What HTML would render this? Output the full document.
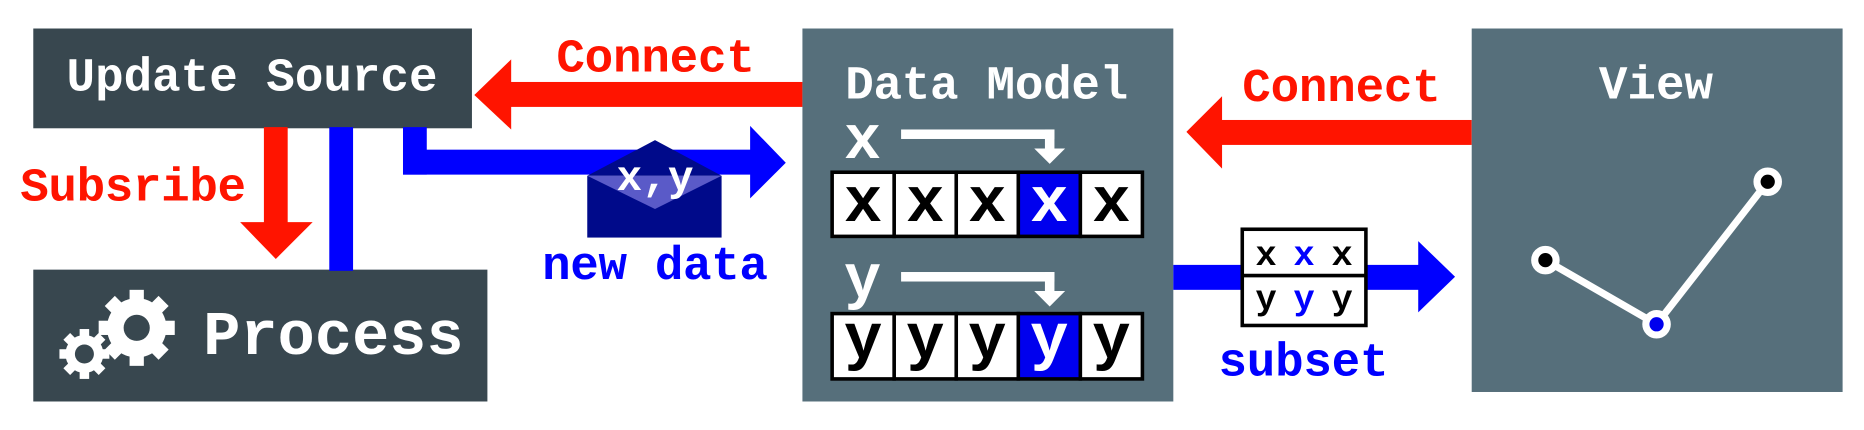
<!DOCTYPE html>
<html><head><meta charset="utf-8"><style>
html,body{margin:0;padding:0;background:#fff;}
svg{display:block;}
text{font-family:"Liberation Mono","DejaVu Sans Mono",monospace;font-weight:bold;}
</style></head><body>
<svg width="1864" height="430" viewBox="0 0 1568 362" preserveAspectRatio="none">
<rect x="0" y="0" width="1568" height="362" fill="#fff"/>
<g>
<rect x="28" y="24" width="369" height="84" fill="#38474f"/>
<text x="212" y="76" font-size="40" fill="#fff" text-anchor="middle" textLength="312">Update Source</text>
</g>
<g>
<rect x="28" y="227" width="382" height="111" fill="#38474f"/>
<g fill="#fff">
<g transform="translate(115,276)">
<circle r="25"/>
<rect x="-6" y="-32" width="12" height="64"/><rect x="-6" y="-32" width="12" height="64" transform="rotate(45)"/><rect x="-6" y="-32" width="12" height="64" transform="rotate(90)"/><rect x="-6" y="-32" width="12" height="64" transform="rotate(135)"/>
<circle r="11" fill="#38474f"/>
</g>
<g transform="translate(71,298)">
<circle r="16"/>
<rect x="-4" y="-21" width="8" height="42"/><rect x="-4" y="-21" width="8" height="42" transform="rotate(45)"/><rect x="-4" y="-21" width="8" height="42" transform="rotate(90)"/><rect x="-4" y="-21" width="8" height="42" transform="rotate(135)"/>
<circle r="8" fill="#38474f"/>
</g>
</g>
<text x="171" y="298" font-size="52" fill="#fff" textLength="219">Process</text>
</g>
<g fill="#ff1400">
<rect x="222" y="107" width="20" height="81"/>
<polygon points="202,187 263,187 232,218"/>
</g>
<text x="17" y="169" font-size="40" fill="#ff1400" textLength="190">Subsribe</text>
<rect x="277" y="107" width="20" height="121" fill="#0000ff"/>
<g fill="#ff1400">
<rect x="428" y="69" width="247" height="21"/>
<polygon points="430,50 430,109 399,80"/>
</g>
<text x="468" y="60" font-size="40" fill="#ff1400" textLength="167">Connect</text>
<g fill="#0000ff">
<rect x="339" y="107" width="20" height="40"/>
<rect x="339" y="126" width="293" height="21"/>
<polygon points="631,106 631,167 661,137"/>
</g>
<g>
<rect x="494" y="148" width="113" height="52" fill="#000a8a"/>
<polygon points="494,148 551,118 607,148" fill="#000a8a"/>
<polygon points="494,148 607,148 551,176" fill="#5a5ac8"/>
<text x="551" y="160" font-size="36" fill="#fff" text-anchor="middle">x,y</text>
</g>
<text x="456" y="235" font-size="40" fill="#0000ff" textLength="190">new data</text>
<g>
<rect x="675" y="24" width="312" height="314" fill="#566f7b"/>
<text x="711" y="83" font-size="40" fill="#fff" textLength="238">Data Model</text>
<text x="710" y="133" font-size="52" fill="#fff">x</text>
<g fill="#fff"><rect x="758" y="109" width="129" height="8"/><rect x="879" y="109" width="8" height="18"/><polygon points="870,125 896,125 883,138"/></g>
<text x="710" y="250" font-size="52" fill="#fff">y</text>
<g fill="#fff"><rect x="758" y="229" width="129" height="8"/><rect x="879" y="229" width="8" height="18"/><polygon points="870,245 896,245 883,258"/></g>
<g id="xrow"></g>
<g id="yrow"></g>
</g>
<g fill="#ff1400">
<rect x="1026" y="101" width="212" height="21"/>
<polygon points="1028,81 1028,142 998,111"/>
</g>
<text x="1045" y="85" font-size="40" fill="#ff1400" textLength="167">Connect</text>
<g fill="#0000ff">
<rect x="987" y="223" width="208" height="21"/>
<polygon points="1193,203 1193,263 1224,233"/>
</g>
<g>
<rect x="1045" y="193" width="104" height="81" fill="#fff" stroke="#000" stroke-width="3"/>
<line x1="1045" y1="232" x2="1149" y2="232" stroke="#000" stroke-width="3"/>
<text x="1065" y="223" font-size="30" fill="#000" text-anchor="middle">x</text>
<text x="1097" y="223" font-size="30" fill="#0000ff" text-anchor="middle">x</text>
<text x="1129" y="223" font-size="30" fill="#000" text-anchor="middle">x</text>
<text x="1065" y="260" font-size="30" fill="#000" text-anchor="middle">y</text>
<text x="1097" y="260" font-size="30" fill="#0000ff" text-anchor="middle">y</text>
<text x="1129" y="260" font-size="30" fill="#000" text-anchor="middle">y</text>
</g>
<text x="1025" y="316" font-size="40" fill="#0000ff" textLength="143">subset</text>
<g>
<rect x="1238" y="24" width="312" height="306" fill="#566f7b"/>
<text x="1393" y="83" font-size="40" fill="#fff" text-anchor="middle">View</text>
<g id="plot"></g>
</g>
</svg>
<script>
const xCells = ['x','x','x','x','x'];
const yCells = ['y','y','y','y','y'];
const highlightIndex = [3];
const pointX = [0, 1, 2];
const pointY = [0.45, 0, 1];
const pointHighlight = [false, true, false];
const NS='http://www.w3.org/2000/svg';
function row(id, arr, top, h, base){
  const g=document.getElementById(id);
  const x0=700, w=52.2;
  arr.forEach((c,i)=>{
    const hi=highlightIndex.includes(i);
    const r=document.createElementNS(NS,'rect');
    r.setAttribute('x',x0+i*w);r.setAttribute('y',top);r.setAttribute('width',w);r.setAttribute('height',h);
    r.setAttribute('fill',hi?'#0000ee':'#fff');r.setAttribute('stroke','#000');r.setAttribute('stroke-width','3');
    
    
    g.appendChild(r);
    const t=document.createElementNS(NS,'text');
    t.setAttribute('x',x0+i*w+w/2);t.setAttribute('y',base);t.setAttribute('text-anchor','middle');
    t.setAttribute('font-size','54');t.setAttribute('fill',hi?'#fff':'#000');t.textContent=c;
    
    
    g.appendChild(t);
  });
}
row('xrow',xCells,145,54,186);
row('yrow',yCells,264,55,301);
const sx=v=>1300+v*93.5, sy=v=>273-v*120;
const plot=document.getElementById('plot');
const pl=document.createElementNS(NS,'polyline');
pl.setAttribute('points',pointX.map((v,i)=>sx(v)+','+sy(pointY[i])).join(' '));
pl.setAttribute('fill','none');pl.setAttribute('stroke','#fff');pl.setAttribute('stroke-width','6');


plot.appendChild(pl);
pointX.forEach((v,i)=>{
  const c=document.createElementNS(NS,'circle');
  c.setAttribute('cx',sx(v));c.setAttribute('cy',sy(pointY[i]));c.setAttribute('r','9');
  c.setAttribute('fill',pointHighlight[i]?'#0000ee':'#000');c.setAttribute('stroke','#fff');c.setAttribute('stroke-width','6');
  
  
  plot.appendChild(c);
});
</script>
</body></html>
